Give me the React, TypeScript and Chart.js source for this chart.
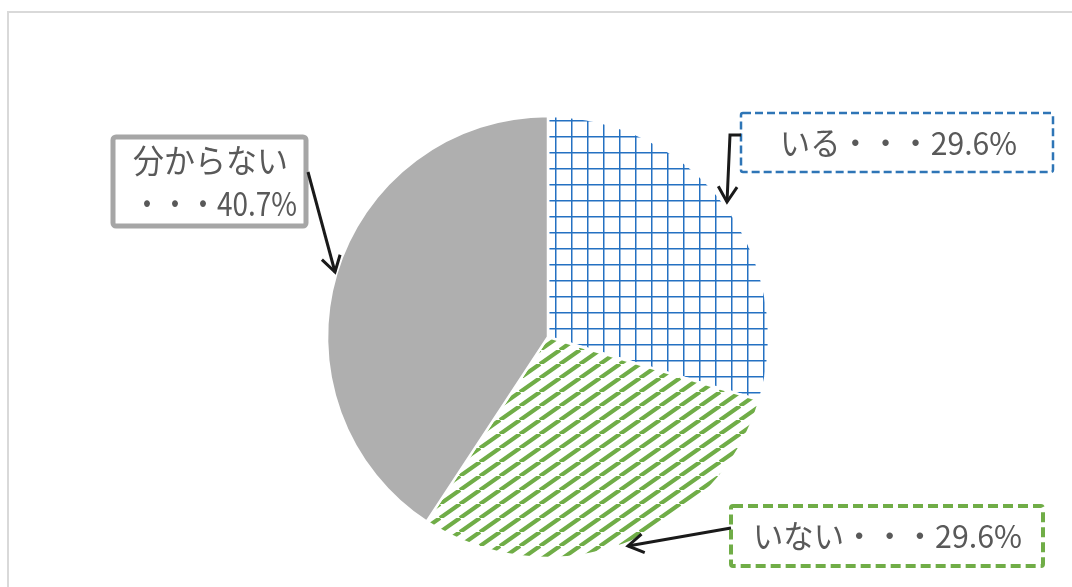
import React, { useEffect, useRef } from "react";
import { Chart, registerables } from "chart.js";

Chart.register(...registerables);

const categories = ["いる", "いない", "分からない"];
const percents = [29.6, 29.6, 40.7];
const separator = "・・・";

const FONT = "'Noto Sans CJK JP', 'Noto Sans', sans-serif";
const TEXT_COLOR = "#595959";

function makeGridPattern(): CanvasPattern | string {
  const c = document.createElement("canvas");
  c.width = 16;
  c.height = 16;
  const g = c.getContext("2d");
  if (!g) return "#2e75b6";
  g.fillStyle = "#ffffff";
  g.fillRect(0, 0, 16, 16);
  g.strokeStyle = "#2471c2";
  g.lineWidth = 1.5;
  g.beginPath();
  g.moveTo(11.75, 0);
  g.lineTo(11.75, 16);
  g.moveTo(0, 8.75);
  g.lineTo(16, 8.75);
  g.stroke();
  const p = g.createPattern(c, "repeat");
  return p || "#2e75b6";
}

function makeStripePattern(): CanvasPattern | string {
  const W = 20;
  const H = 14;
  const c = document.createElement("canvas");
  c.width = W;
  c.height = H;
  const g = c.getContext("2d");
  if (!g) return "#70ad47";
  g.fillStyle = "#ffffff";
  g.fillRect(0, 0, W, H);
  g.strokeStyle = "#70ad47";
  g.lineWidth = 4.2;
  g.beginPath();
  for (const x0 of [-W, 0, W]) {
    g.moveTo(x0, H);
    g.lineTo(x0 + W, 0);
  }
  g.stroke();
  const p = g.createPattern(c, "repeat");
  return p || "#70ad47";
}

function fittedText(
  ctx: CanvasRenderingContext2D,
  text: string,
  cx: number,
  cy: number,
  width: number,
  size: number
) {
  ctx.save();
  ctx.font = `${size}px ${FONT}`;
  const m = ctx.measureText(text).width;
  ctx.translate(cx, cy);
  ctx.scale(width / m, 1.08);
  ctx.textAlign = "center";
  ctx.textBaseline = "middle";
  ctx.fillStyle = TEXT_COLOR;
  ctx.fillText(text, 0, 0);
  ctx.restore();
}

function arrow(ctx: CanvasRenderingContext2D, pts: number[][]) {
  ctx.save();
  ctx.strokeStyle = "#1a1a1a";
  ctx.lineWidth = 3;
  ctx.lineCap = "butt";
  ctx.lineJoin = "miter";
  ctx.setLineDash([]);
  ctx.beginPath();
  ctx.moveTo(pts[0][0], pts[0][1]);
  for (let i = 1; i < pts.length; i++) ctx.lineTo(pts[i][0], pts[i][1]);
  ctx.stroke();
  const [x1, y1] = pts[pts.length - 2];
  const [x2, y2] = pts[pts.length - 1];
  const a = Math.atan2(y2 - y1, x2 - x1);
  const len = 18;
  const spread = 0.55;
  ctx.beginPath();
  ctx.moveTo(x2 - len * Math.cos(a - spread), y2 - len * Math.sin(a - spread));
  ctx.lineTo(x2, y2);
  ctx.lineTo(x2 - len * Math.cos(a + spread), y2 - len * Math.sin(a + spread));
  ctx.stroke();
  ctx.restore();
}

function roundRect(ctx: CanvasRenderingContext2D, x: number, y: number, w: number, h: number, r: number) {
  ctx.beginPath();
  ctx.moveTo(x + r, y);
  ctx.lineTo(x + w - r, y);
  ctx.arcTo(x + w, y, x + w, y + r, r);
  ctx.lineTo(x + w, y + h - r);
  ctx.arcTo(x + w, y + h, x + w - r, y + h, r);
  ctx.lineTo(x + r, y + h);
  ctx.arcTo(x, y + h, x, y + h - r, r);
  ctx.lineTo(x, y + r);
  ctx.arcTo(x, y, x + r, y, r);
  ctx.closePath();
}

const annotationPlugin = {
  id: "calloutLabels",
  beforeDraw(chart: any) {
    const ctx: CanvasRenderingContext2D = chart.ctx;
    ctx.save();
    ctx.fillStyle = "#ffffff";
    ctx.fillRect(0, 0, chart.width, chart.height);
    ctx.strokeStyle = "#d9d9d9";
    ctx.lineWidth = 2;
    ctx.strokeRect(8, 12, 2000, 2000);
    ctx.restore();
  },
  afterDraw(chart: any) {
    const ctx: CanvasRenderingContext2D = chart.ctx;
    const t0 = `${categories[0]}${separator}${percents[0].toFixed(1)}%`;
    const t1 = `${categories[1]}${separator}${percents[1].toFixed(1)}%`;
    const t2a = categories[2];
    const t2b = `${separator}${percents[2].toFixed(1)}%`;

    // box 1 (いる)
    ctx.save();
    ctx.strokeStyle = "#2e75b6";
    ctx.lineWidth = 2.5;
    ctx.setLineDash([8, 4]);
    roundRect(ctx, 741, 113, 312, 59, 2);
    ctx.fillStyle = "#ffffff";
    ctx.fill();
    ctx.stroke();
    ctx.restore();
    fittedText(ctx, t0, 898.5, 143, 237, 29);

    // box 2 (いない)
    ctx.save();
    ctx.strokeStyle = "#70ad47";
    ctx.lineWidth = 4;
    ctx.setLineDash([10, 5]);
    roundRect(ctx, 731, 506, 312, 60, 2);
    ctx.fillStyle = "#ffffff";
    ctx.fill();
    ctx.stroke();
    ctx.restore();
    fittedText(ctx, t1, 887.5, 536, 269, 29);

    // box 3 (分からない)
    ctx.save();
    ctx.strokeStyle = "#a6a6a6";
    ctx.lineWidth = 5;
    ctx.setLineDash([]);
    roundRect(ctx, 113, 137, 193, 89, 3);
    ctx.fillStyle = "#ffffff";
    ctx.fill();
    ctx.stroke();
    ctx.restore();
    fittedText(ctx, t2a, 210.5, 161, 155, 30);
    fittedText(ctx, t2b, 215, 204, 164, 30);

    // arrows
    arrow(ctx, [[741, 135], [730, 135], [727, 202]]);
    arrow(ctx, [[731, 528], [628, 546]]);
    arrow(ctx, [[308, 172], [335, 272]]);
  },
};

export default function App() {
  const ref = useRef<HTMLCanvasElement | null>(null);
  useEffect(() => {
    if (!ref.current) return;
    const chart = new Chart(ref.current, {
      type: "pie",
      data: {
        labels: categories,
        datasets: [
          {
            data: percents,
            backgroundColor: [makeGridPattern(), makeStripePattern(), "#afafaf"],
            borderColor: "#ffffff",
            borderWidth: 2.5,
            radius: 221,
          } as any,
        ],
      },
      options: {
        responsive: false,
        animation: false,
        layout: { padding: { left: 300, right: 276, top: 100, bottom: 13 } },
        plugins: {
          legend: { display: false },
          tooltip: { enabled: false },
          title: { display: false },
        },
        events: [],
      },
      plugins: [annotationPlugin],
    });
    return () => chart.destroy();
  }, []);
  return (
    <div style={{ position: "absolute", left: 0, top: 0, width: 1072, height: 587, overflow: "hidden" }}>
      <canvas ref={ref} width={1072} height={587} style={{ display: "block", width: 1072, height: 587 }} />
    </div>
  );
}
